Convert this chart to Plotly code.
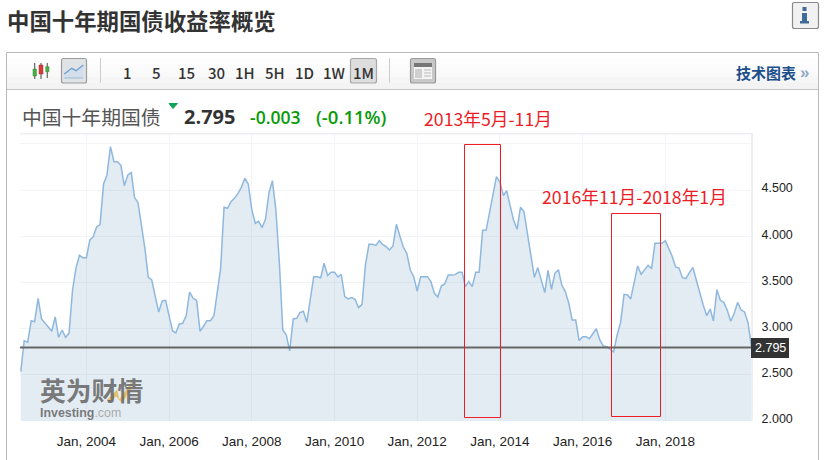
import pandas as pd
import plotly.graph_objects as go

W, H = 825, 460

# ---------- data ----------
start_month = "2002-06-01"
yields = [
    2.534, 2.870, 2.851, 3.086, 3.075, 3.328, 3.104, 3.064, 3.014, 2.971, 3.126, 2.906, 2.985, 2.906, 2.949,
    3.418, 3.652, 3.793, 3.768, 3.768, 3.959, 3.992, 4.100, 4.125, 4.565, 4.663, 4.969, 4.807, 4.807, 4.767,
    4.547, 4.663, 4.688, 4.421, 4.363, 4.122, 3.869, 3.555, 3.526, 3.346, 3.180, 3.299, 3.306, 3.137, 2.974,
    2.953, 3.050, 3.057, 3.140, 3.396, 3.328, 3.306, 2.971, 3.025, 3.086, 3.086, 3.140, 3.382, 3.652, 4.313,
    4.302, 4.374, 4.410, 4.464, 4.529, 4.627, 4.565, 4.291, 4.140, 4.161, 4.093, 4.183, 4.471, 4.601, 4.284,
    3.707, 2.985, 2.931, 2.758, 3.104, 3.111, 3.173, 3.187, 3.068, 3.310, 3.562, 3.562, 3.551, 3.707, 3.573,
    3.609, 3.609, 3.559, 3.588, 3.346, 3.321, 3.335, 3.317, 3.227, 3.263, 3.689, 3.912, 3.912, 3.901, 3.952,
    3.912, 3.887, 3.851, 3.894, 4.129, 4.002, 3.880, 3.815, 3.634, 3.562, 3.407, 3.562, 3.562, 3.562, 3.508,
    3.382, 3.342, 3.461, 3.486, 3.580, 3.580, 3.584, 3.609, 3.609, 3.454, 3.508, 3.454, 3.609, 3.609, 4.064,
    4.067, 4.248, 4.428, 4.645, 4.583, 4.439, 4.493, 4.338, 4.176, 4.075, 4.313, 4.266, 4.013, 3.779, 3.555,
    3.660, 3.526, 3.389, 3.631, 3.425, 3.598, 3.638, 3.472, 3.400, 3.274, 3.093, 3.093, 2.870, 2.913, 2.913,
    2.891, 2.949, 2.999, 2.877, 2.812, 2.805, 2.779, 2.747, 2.931, 3.064, 3.371, 3.364, 3.321, 3.490, 3.678,
    3.588, 3.634, 3.685, 3.649, 3.923, 3.923, 3.923, 3.952, 3.869, 3.786, 3.667, 3.656, 3.551, 3.541, 3.606,
    3.663, 3.526, 3.382, 3.256, 3.140, 3.212, 3.082, 3.422, 3.306, 3.284, 3.201, 3.079, 3.165, 3.284, 3.201,
    3.180, 3.064, 2.795,
]
months = pd.date_range(start_month, periods=len(yields), freq="MS")
last_price = 2.795
x_ticks = ["2004-01-01", "2006-01-01", "2008-01-01", "2010-01-01", "2012-01-01", "2014-01-01", "2016-01-01", "2018-01-01"]
x_labels = ["Jan, 2004", "Jan, 2006", "Jan, 2008", "Jan, 2010", "Jan, 2012", "Jan, 2014", "Jan, 2016", "Jan, 2018"]
y_ticks = [2, 2.5, 3, 3.5, 4, 4.5, 5]
y_labels = ["2.000", "2.500", "3.000", "3.500", "4.000", "4.500", ""]
periods = ["1", "5", "15", "30", "1H", "5H", "1D", "1W", "1M"]
period_x = [127, 156, 186, 216, 245, 275, 304, 334, 363]

CJK = "Noto Sans CJK SC"
ARIAL = "Liberation Sans"


def px(x):
    return x / W


def py(y):
    return 1 - y / H


shapes, notes = [], []


def rect(x0, y0, x1, y1, fill=None, line=None, lw=1):
    shapes.append(dict(type="rect", xref="paper", yref="paper", x0=px(x0), x1=px(x1), y0=py(y0), y1=py(y1),
                       fillcolor=fill or "rgba(0,0,0,0)", line=dict(color=line or "rgba(0,0,0,0)", width=lw if line else 0)))


def path(points, color, lw=1, fill=None):
    d = "M" + " L".join(f"{px(a):.5f},{py(b):.5f}" for a, b in points)
    if fill:
        d += " Z"
    shapes.append(dict(type="path", xref="paper", yref="paper", path=d, fillcolor=fill or "rgba(0,0,0,0)",
                       line=dict(color=color, width=lw)))


def button(x0, y0, x1, y1, fill, line):
    r = 2
    d = (f"M{px(x0+r):.5f},{py(y0):.5f} L{px(x1-r):.5f},{py(y0):.5f} Q{px(x1):.5f},{py(y0):.5f} {px(x1):.5f},{py(y0+r):.5f} "
         f"L{px(x1):.5f},{py(y1-r):.5f} Q{px(x1):.5f},{py(y1):.5f} {px(x1-r):.5f},{py(y1):.5f} "
         f"L{px(x0+r):.5f},{py(y1):.5f} Q{px(x0):.5f},{py(y1):.5f} {px(x0):.5f},{py(y1-r):.5f} "
         f"L{px(x0):.5f},{py(y0+r):.5f} Q{px(x0):.5f},{py(y0):.5f} {px(x0+r):.5f},{py(y0):.5f} Z")
    shapes.append(dict(type="path", xref="paper", yref="paper", path=d, fillcolor=fill, line=dict(color=line, width=1.2)))


def text(x, y, s, size, color, font=CJK, anchor="left", bold=False, weight=None):
    f = dict(family=font, size=size, color=color)
    if weight:
        f["weight"] = weight
    notes.append(dict(xref="paper", yref="paper", x=px(x), y=py(y), xanchor=anchor, yanchor="middle", showarrow=False,
                      text=f"<b>{s}</b>" if bold else s, font=f, borderpad=0, borderwidth=0, align="left"))


# ---------- page chrome ----------
path([(6.5, 460), (6.5, 52.5), (818.5, 52.5), (818.5, 460)], "#b9b9b9", 1)
strip_cols = ["#ffffff", "#fdfdfd", "#fbfbfb", "#f9f9f9", "#f6f6f6", "#f3f3f3"]
for i, c in enumerate(strip_cols):
    rect(7, 53 + i * 6, 818, 59 + i * 6, fill=c)
path([(7, 89.5), (818, 89.5)], "#c4c4c4", 1)

# candle icon
for sx, y0, y1 in [(34.7, 63, 79), (41, 63, 79), (47.3, 63, 78)]:
    path([(sx, y0), (sx, y1)], "#666666", 1.2)
rect(33, 69, 36.5, 76, fill="#45b045", line="#3a8a3a", lw=0.5)
rect(39, 65, 43, 74, fill="#d83a3a", line="#a83030", lw=0.5)
rect(45.7, 66.7, 49, 71.7, fill="#45b045", line="#3a8a3a", lw=0.5)

# line icon button
button(61.5, 58.5, 86.5, 83, "#e0e3e6", "#9c9c9c")
path([(64.3, 74), (71.7, 68.3), (76, 70.7), (83.3, 65), (83.3, 78), (64.3, 78)], "rgba(0,0,0,0)", 0, fill="#d3dfec")
path([(64.3, 74), (71.7, 68.3), (76, 70.7), (83.3, 65)], "#6f9fd0", 1.4)
path([(64.3, 78), (83.3, 78)], "#9dbbd9", 1)

path([(100.5, 58), (100.5, 83)], "#cccccc", 1)
path([(389.5, 58), (389.5, 83)], "#cccccc", 1)
button(350.5, 58.5, 376.5, 83, "#dddddd", "#a8a8a8")
for pl, pxx in zip(periods, period_x):
    text(pxx, 72, pl, 15, "#333333", anchor="center", weight=500)

# layout icon
button(410.5, 58.5, 435.5, 83, "#c9c9c9", "#999999")
rect(414, 63, 432, 79, fill="#f4f4f4")
rect(414, 63, 432, 67, fill="#777777")
rect(415, 69, 422, 78, fill="#cfcfcf")
for ly in (70, 73, 76):
    path([(424, ly), (431, ly)], "#bbbbbb", 1)

text(736, 73, "技术图表", 15, "#1c4f8c", bold=True)
text(800, 72, "»", 17, "#8fa9c6", font=ARIAL, bold=True)

# title + info button
text(7, 20, "中国十年期国债收益率概览", 22.4, "#333333", bold=True)
button(792.5, 2.5, 818.5, 28.5, "#f1f1f1", "#8a8a8a")
rect(802.5, 7, 806.5, 11, fill="#3f6a99")
rect(802, 13, 807, 22, fill="#3f6a99")
rect(800, 21, 809, 23.5, fill="#3f6a99")

# instrument row
text(22, 116, "中国十年期国债", 19.8, "#555555")
path([(169, 103.5), (177.5, 103.5), (173, 108.5)], "#12a35a", 1, fill="#12a35a")
text(184, 116, "2.795", 20, "#333333", font="Open Sans", bold=True)
text(250, 117, "-0.003", 17.5, "#0a9a0a", font="Open Sans", weight=600)
text(316, 117, "(-0.11%)", 18.5, "#0a9a0a", font="Open Sans", weight=600)

# plot frame
rect(20, 133, 752, 134.5, fill="#eeeff3")
rect(751, 133, 753, 421, fill="#eeeff3")

# price line + label
shapes.append(dict(type="line", xref="paper", yref="y", x0=px(20), x1=px(752), y0=last_price, y1=last_price,
                   line=dict(color="#666666", width=2)))
rect(751, 338, 789, 358, fill="#333333")
text(770, 348, f"{last_price:.3f}", 12.5, "#ffffff", font=ARIAL, anchor="center")

# red call-outs
rect(464.5, 144.5, 500.5, 417.5, line="#ee1c25", lw=1)
rect(611.5, 213.5, 660.5, 416.5, line="#ee1c25", lw=1)
text(424, 118, "2013年5月-11月", 17.7, "#ee1c25")
text(542, 196, "2016年11月-2018年1月", 17.7, "#ee1c25")

# watermark
path([(107, 400), (117, 390), (119, 400), (132, 382), (130, 390), (122, 403), (116, 396), (110, 403)], "#e9bd6a", 0.5, fill="#e9bd6a")
text(39.5, 398.5, "<span style='font-size:25.8px'><b>英为财情</b></span><br><b>Investing</b><span style='color:#a0a0a0'>.com</span>",
     12.4, "rgba(105,105,105,0.88)", font=f"{ARIAL}, {CJK}")

fig = go.Figure()
fig.add_trace(go.Scatter(x=months, y=yields, mode="lines", line=dict(color="#8fb8de", width=1.5),
                         fill="tozeroy", fillcolor="rgba(115,160,195,0.2)", hoverinfo="skip", showlegend=False))
fig.update_layout(
    width=W, height=H, autosize=False, margin=dict(l=0, r=0, t=0, b=0, autoexpand=False),
    paper_bgcolor="white", plot_bgcolor="white", showlegend=False,
    xaxis=dict(domain=[px(20), px(752)], range=["2002-05-25", "2020-02-05"], type="date", automargin=False,
               tickmode="array", tickvals=x_ticks, ticktext=x_labels, showgrid=True, gridcolor="#f2f4f7", gridwidth=1,
               zeroline=False, showline=False, ticks="outside", ticklen=8, tickcolor="rgba(0,0,0,0)",
               tickfont=dict(family=ARIAL, size=13.5, color="#222222")),
    yaxis=dict(domain=[py(421), py(133)], range=[2, 5.117], side="right", automargin=False,
               tickmode="array", tickvals=y_ticks, ticktext=y_labels, showgrid=True, gridcolor="#f2f4f7", gridwidth=1,
               zeroline=False, showline=False, ticks="outside", ticklen=6, tickcolor="rgba(0,0,0,0)", ticklabelshift=-2,
               tickfont=dict(family=ARIAL, size=12.5, color="#222222")),
    shapes=shapes, annotations=notes,
)
fig.write_html("out.html", config=dict(displayModeBar=False),
               post_script="document.body.style.margin='0';document.body.style.overflow='hidden';")
